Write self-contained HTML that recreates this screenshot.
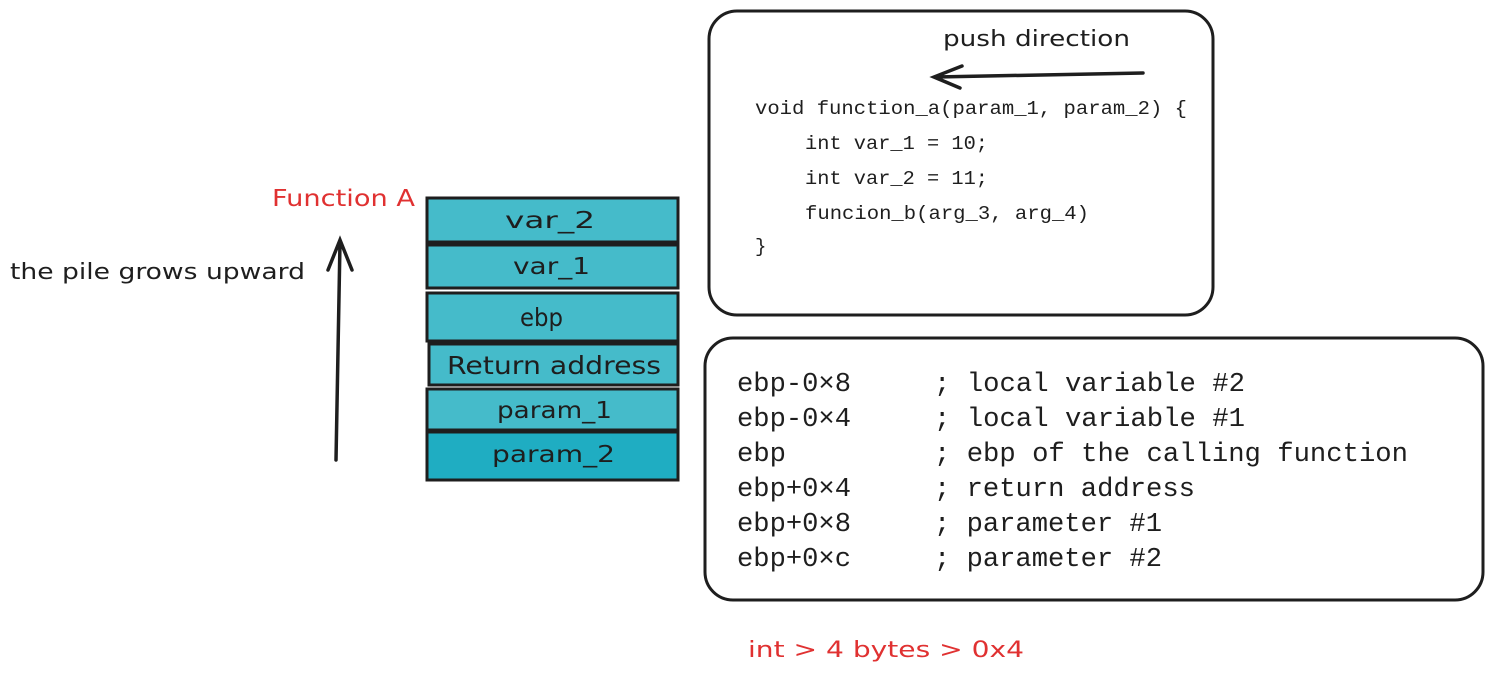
<!DOCTYPE html>
<html><head><meta charset="utf-8"><style>
body{margin:0;background:#fff;width:1493px;height:677px;overflow:hidden}
svg{display:block}
.h{font-family:"Comic Sans MS","DejaVu Sans",sans-serif;fill:#1e1e1e}
.m{font-family:"Liberation Mono",monospace;fill:#1e1e1e}
</style></head><body>
<svg width="1493" height="677" viewBox="0 0 1493 677">
<g stroke="#1e1e1e" stroke-width="3" fill="#45bbca">
<rect x="427" y="198" width="251" height="44"/>
<rect x="427" y="245" width="251" height="43"/>
<rect x="427" y="293" width="251" height="48"/>
<rect x="429" y="344" width="249" height="41"/>
<rect x="427" y="389" width="251" height="41"/>
<rect x="427" y="432" width="251" height="48" fill="#1fadc2"/>
</g>
<g class="h" font-size="23">
<text x="505" y="228" textLength="90" lengthAdjust="spacingAndGlyphs">var_2</text>
<text x="513" y="274" textLength="77" lengthAdjust="spacingAndGlyphs">var_1</text>
<text x="520" y="326" font-size="25" textLength="43" lengthAdjust="spacingAndGlyphs">ebp</text>
<text x="447" y="374" font-size="25" textLength="214" lengthAdjust="spacingAndGlyphs">Return address</text>
<text x="497" y="418" textLength="115" lengthAdjust="spacingAndGlyphs">param_1</text>
<text x="492" y="462" textLength="123" lengthAdjust="spacingAndGlyphs">param_2</text>
</g>
<text class="h" x="272" y="206" font-size="23" textLength="143" lengthAdjust="spacingAndGlyphs" style="fill:#e03131">Function A</text>
<text class="h" x="10" y="279" font-size="22" textLength="295" lengthAdjust="spacingAndGlyphs">the pile grows upward</text>
<path d="M336 460 L340 242 M328 270 L340 240 L352 270" stroke="#1e1e1e" stroke-width="3.5" fill="none" stroke-linecap="round"/>
<rect x="709" y="11" width="504" height="304" rx="28" fill="none" stroke="#1e1e1e" stroke-width="3"/>
<text class="h" x="943" y="46" font-size="22" textLength="187" lengthAdjust="spacingAndGlyphs">push direction</text>
<path d="M1143 73 L936 77 M962 66 L934 77 L960 88" stroke="#1e1e1e" stroke-width="3.5" fill="none" stroke-linecap="round"/>
<g class="m" font-size="19">
<text x="755" y="114" textLength="432" lengthAdjust="spacingAndGlyphs">void function_a(param_1, param_2) {</text>
<text x="805" y="149" textLength="183" lengthAdjust="spacingAndGlyphs">int var_1 = 10;</text>
<text x="805" y="184" textLength="183" lengthAdjust="spacingAndGlyphs">int var_2 = 11;</text>
<text x="805" y="219" textLength="284" lengthAdjust="spacingAndGlyphs">funcion_b(arg_3, arg_4)</text>
<text x="755" y="252">}</text>
</g>
<rect x="705" y="338" width="778" height="262" rx="28" fill="none" stroke="#1e1e1e" stroke-width="3"/>
<g class="m" font-size="27">
<text x="737" y="391" textLength="114" lengthAdjust="spacingAndGlyphs">ebp-0×8</text>
<text x="737" y="426" textLength="114" lengthAdjust="spacingAndGlyphs">ebp-0×4</text>
<text x="737" y="461" textLength="49" lengthAdjust="spacingAndGlyphs">ebp</text>
<text x="737" y="496" textLength="114" lengthAdjust="spacingAndGlyphs">ebp+0×4</text>
<text x="737" y="531" textLength="114" lengthAdjust="spacingAndGlyphs">ebp+0×8</text>
<text x="737" y="566" textLength="114" lengthAdjust="spacingAndGlyphs">ebp+0×c</text>
<text x="934" y="391" textLength="311" lengthAdjust="spacingAndGlyphs">; local variable #2</text>
<text x="934" y="426" textLength="311" lengthAdjust="spacingAndGlyphs">; local variable #1</text>
<text x="934" y="461" textLength="474" lengthAdjust="spacingAndGlyphs">; ebp of the calling function</text>
<text x="934" y="496" textLength="261" lengthAdjust="spacingAndGlyphs">; return address</text>
<text x="934" y="531" textLength="228" lengthAdjust="spacingAndGlyphs">; parameter #1</text>
<text x="934" y="566" textLength="228" lengthAdjust="spacingAndGlyphs">; parameter #2</text>
</g>
<text class="h" x="748" y="657" font-size="22" textLength="276" lengthAdjust="spacingAndGlyphs" style="fill:#e03131">int &gt; 4 bytes &gt; 0x4</text>
</svg>
</body></html>
